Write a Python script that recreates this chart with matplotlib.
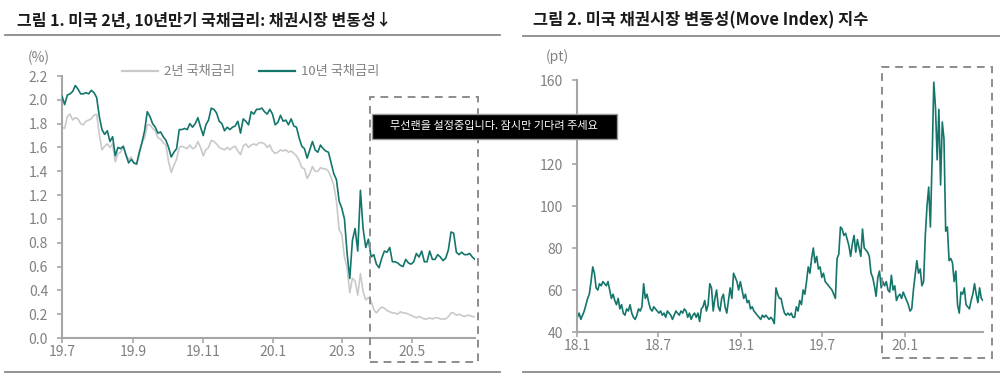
import matplotlib
matplotlib.use('Agg')
import matplotlib.pyplot as plt
import pandas as pd
from matplotlib.patches import Rectangle
from matplotlib.lines import Line2D

plt.rcParams['font.family'] = ['Noto Sans CJK KR', 'DejaVu Sans']

# ---------------- data ----------------
title_left = '그림 1. 미국 2년, 10년만기 국채금리: 채권시장 변동성↓'
title_right = '그림 2. 미국 채권시장 변동성(Move Index) 지수'
series_names = ['2년 국채금리', '10년 국채금리']
unit_left = '(%)'
unit_right = '(pt)'
tooltip_text = '무선랜을 설정중입니다. 잠시만 기다려 주세요'

rate_start, rate_end = '2019-07-01', '2020-06-25'
# US 10Y yield, three readings per week
y10 = [2.03, 1.96, 2.04, 2.05, 2.07, 2.12, 2.09, 2.05, 2.05, 2.06, 2.05, 2.08,
       2.06, 2.02, 1.86, 1.75, 1.71, 1.74, 1.65, 1.69, 1.53, 1.60, 1.59, 1.61,
       1.54, 1.47, 1.50, 1.47, 1.46, 1.56, 1.64, 1.74, 1.90, 1.86, 1.80, 1.77,
       1.72, 1.73, 1.69, 1.66, 1.60, 1.52, 1.56, 1.59, 1.75, 1.75, 1.76, 1.75,
       1.80, 1.77, 1.80, 1.85, 1.77, 1.70, 1.79, 1.83, 1.93, 1.92, 1.89, 1.82,
       1.80, 1.74, 1.77, 1.75, 1.77, 1.78, 1.82, 1.72, 1.84, 1.82, 1.79, 1.90,
       1.88, 1.92, 1.92, 1.93, 1.90, 1.88, 1.92, 1.88, 1.79, 1.81, 1.87, 1.82,
       1.83, 1.79, 1.84, 1.78, 1.77, 1.68, 1.61, 1.59, 1.51, 1.58, 1.65, 1.58,
       1.56, 1.62, 1.59, 1.57, 1.56, 1.47, 1.38, 1.33, 1.15, 1.09, 1.00, 0.71,
       0.50, 0.82, 0.92, 0.73, 1.24, 0.92, 0.76, 0.83, 0.68, 0.70, 0.62, 0.59,
       0.67, 0.73, 0.72, 0.76, 0.64, 0.64, 0.63, 0.61, 0.60, 0.66, 0.63, 0.62,
       0.64, 0.71, 0.68, 0.73, 0.64, 0.64, 0.73, 0.66, 0.66, 0.70, 0.68, 0.65,
       0.67, 0.74, 0.89, 0.88, 0.72, 0.70, 0.72, 0.70, 0.70, 0.71, 0.68, 0.66]
# US 2Y yield, same dates
y2 = [1.77, 1.76, 1.86, 1.88, 1.83, 1.85, 1.84, 1.80, 1.79, 1.82, 1.83, 1.84,
      1.87, 1.88, 1.71, 1.58, 1.61, 1.63, 1.60, 1.63, 1.48, 1.55, 1.56, 1.61,
      1.53, 1.50, 1.52, 1.47, 1.46, 1.54, 1.64, 1.68, 1.79, 1.79, 1.76, 1.74,
      1.68, 1.67, 1.64, 1.62, 1.48, 1.39, 1.45, 1.50, 1.60, 1.61, 1.60, 1.59,
      1.62, 1.59, 1.60, 1.65, 1.60, 1.53, 1.58, 1.60, 1.66, 1.65, 1.63, 1.60,
      1.59, 1.58, 1.60, 1.58, 1.60, 1.61, 1.57, 1.54, 1.61, 1.63, 1.60, 1.62,
      1.63, 1.62, 1.64, 1.64, 1.63, 1.60, 1.62, 1.57, 1.55, 1.56, 1.58, 1.57,
      1.58, 1.56, 1.57, 1.55, 1.53, 1.49, 1.43, 1.42, 1.34, 1.38, 1.44, 1.40,
      1.40, 1.43, 1.42, 1.42, 1.40, 1.35, 1.28, 1.15, 0.91, 0.87, 0.68, 0.59,
      0.38, 0.50, 0.48, 0.36, 0.54, 0.39, 0.32, 0.34, 0.31, 0.24, 0.21, 0.24,
      0.26, 0.25, 0.23, 0.22, 0.21, 0.21, 0.20, 0.22, 0.21, 0.21, 0.20, 0.19,
      0.18, 0.17, 0.18, 0.17, 0.16, 0.16, 0.17, 0.16, 0.17, 0.17, 0.16, 0.16,
      0.16, 0.18, 0.21, 0.21, 0.19, 0.20, 0.19, 0.18, 0.19, 0.19, 0.18, 0.18]
rate_ticks = ['2019-07-01', '2019-09-01', '2019-11-01', '2020-01-01', '2020-03-01', '2020-05-01']
rate_ticklabels = ['19.7', '19.9', '19.11', '20.1', '20.3', '20.5']
rate_yticks = [0.0, 0.2, 0.4, 0.6, 0.8, 1.0, 1.2, 1.4, 1.6, 1.8, 2.0, 2.2]

move_start, move_end = '2018-01-02', '2020-06-23'
# MOVE index, about two readings per week (8 per month)
move = [47, 49, 46, 48, 50, 53, 56, 58,
        64, 71, 68, 61, 60, 63, 62, 64,
        63, 62, 64, 60, 56, 58, 55, 53,
        56, 51, 53, 49, 48, 51, 50, 53,
        49, 47, 46, 48, 51, 50, 52, 63,
        56, 58, 54, 51, 50, 52, 51, 50,
        49, 50, 48, 49, 47, 50, 49, 48,
        46, 48, 50, 49, 48, 50, 49, 51,
        50, 47, 49, 46, 48, 49, 47, 49,
        45, 51, 52, 55, 50, 53, 63, 61,
        50, 56, 60, 52, 50, 56, 58, 52,
        49, 55, 61, 56, 68, 66, 64, 60,
        64, 60, 56, 58, 54, 55, 51, 52,
        50, 49, 48, 47, 46, 48, 47, 48,
        47, 46, 47, 46, 44, 61, 58, 56,
        56, 52, 49, 48, 49, 48, 49, 47,
        47, 52, 50, 55, 53, 60, 58, 64,
        71, 68, 75, 80, 73, 76, 70, 71,
        66, 68, 64, 63, 62, 61, 60, 58,
        56, 75, 77, 90, 89, 86, 87, 84,
        81, 76, 82, 86, 78, 84, 80, 76,
        89, 80, 79, 78, 76, 68, 66, 62,
        57, 66, 69, 61, 64, 62, 64, 60,
        59, 67, 60, 62, 55, 57, 58, 56,
        59, 57, 55, 53, 50, 51, 60, 67,
        74, 68, 70, 62, 64, 86, 100, 109,
        90, 122, 159, 147, 122, 146, 110, 140,
        132, 88, 90, 74, 75, 73, 64, 69,
        53, 49, 59, 58, 61, 53, 52, 51,
        55, 58, 63, 58, 54, 61, 56, 55]
move_ticks = ['2018-01-01', '2018-07-01', '2019-01-01', '2019-07-01', '2020-01-01']
move_ticklabels = ['18.1', '18.7', '19.1', '19.7', '20.1']
move_yticks = [40, 60, 80, 100, 120, 140, 160]
# the 140 label sits under the tooltip overlay in the reference
move_yticklabels = ['40', '60', '80', '100', '120', '', '160']

# ---------------- style ----------------
TEAL = '#14756b'
GRAY_LINE = '#c9c9c9'
AXIS = '#a6a6a6'
TICKTXT = '#808080'
W, H = 1000, 378

fig = plt.figure(figsize=(10, 3.78), dpi=100)


def rect(x0, y0, x1, y1):
    return [x0 / W, 1 - y1 / H, (x1 - x0) / W, (y1 - y0) / H]


def style_axis(ax, ypad):
    for s in ['top', 'right']:
        ax.spines[s].set_visible(False)
    for s in ['left', 'bottom']:
        ax.spines[s].set_color(AXIS)
        ax.spines[s].set_linewidth(1.5)
    ax.tick_params(axis='y', colors=AXIS, labelcolor=TICKTXT, length=3.5, width=1.2,
                   labelsize=10, pad=ypad)
    ax.tick_params(axis='x', colors=AXIS, labelcolor=TICKTXT, length=3.5, width=1.2,
                   labelsize=10, pad=1.5)
    ax.patch.set_alpha(0)


# ---- left chart ----
rate_dates = pd.date_range(rate_start, rate_end, periods=len(y10))
ax1 = fig.add_axes(rect(62, 76, 475, 338))
ax1.plot(rate_dates, y2, color=GRAY_LINE, lw=1.2, zorder=2)
ax1.plot(rate_dates, y10, color=TEAL, lw=1.2, zorder=3)
ax1.set_xlim(pd.Timestamp(rate_start), pd.Timestamp(rate_end))
ax1.set_ylim(0, 2.2)
ax1.set_yticks(rate_yticks)
ax1.set_yticklabels([f'{v:.1f}' for v in rate_yticks])
ax1.set_xticks(pd.to_datetime(rate_ticks))
ax1.set_xticklabels(rate_ticklabels)
style_axis(ax1, 6.5)

handles = [Line2D([], [], color=GRAY_LINE, lw=1.6), Line2D([], [], color=TEAL, lw=1.6)]
leg = fig.legend(handles, series_names, loc='center left',
                 bbox_to_anchor=(122 / W, 1 - 72 / H), ncol=2, frameon=False,
                 fontsize=9.5, handlelength=2.75, handletextpad=0.45,
                 columnspacing=1.8, borderpad=0, borderaxespad=0)
for t in leg.get_texts():
    t.set_color(TICKTXT)

fig.text(28 / W, 1 - 58 / H, unit_left, fontsize=10, color=TICKTXT, va='center', ha='left')

# ---- right chart ----
move_dates = pd.date_range(move_start, move_end, periods=len(move))
ax2 = fig.add_axes(rect(577, 80, 983, 332))
ax2.plot(move_dates, move, color=TEAL, lw=1.2)
ax2.set_xlim(pd.Timestamp('2018-01-01'), pd.Timestamp(move_end))
ax2.set_ylim(40, 160)
ax2.set_yticks(move_yticks)
ax2.set_yticklabels(move_yticklabels)
ax2.set_xticks(pd.to_datetime(move_ticks))
ax2.set_xticklabels(move_ticklabels)
style_axis(ax2, 6.5)

fig.text(546 / W, 1 - 57 / H, unit_right, fontsize=10, color=TICKTXT, va='center', ha='left')

# ---- titles and rules ----
fig.text(17 / W, 1 - 20 / H, title_left, fontsize=11.5, fontweight='bold', color='#1a1a1a',
         va='center', ha='left')
fig.text(533 / W, 1 - 20 / H, title_right, fontsize=11.8, fontweight='bold', color='#1a1a1a',
         va='center', ha='left')
for (xa, xb, yy) in [(5, 500, 35), (523, 1000, 36), (5, 500, 372), (523, 1000, 372)]:
    fig.add_artist(Line2D([xa / W, xb / W], [1 - yy / H, 1 - yy / H], transform=fig.transFigure,
                          color='#8a8a8a', lw=1.3))

# dashed highlight boxes
for (x0, y0, x1, y1) in [(370, 97, 478, 362), (882, 67, 992, 358)]:
    fig.add_artist(Rectangle((x0 / W, 1 - y1 / H), (x1 - x0) / W, (y1 - y0) / H,
                             transform=fig.transFigure, fill=False, edgecolor='#8c8c8c',
                             lw=1.4, linestyle=(0, (4, 3)), zorder=5))

# tooltip overlay
fig.add_artist(Rectangle((372 / W, 1 - 139 / H), (617 - 372) / W, (139 - 114) / H,
                         transform=fig.transFigure, facecolor='black', edgecolor='#9a9a9a',
                         lw=1, zorder=20))
fig.text(390 / W, 1 - 126.5 / H, tooltip_text, fontsize=8, color='white', va='center',
         ha='left', zorder=21)

fig.savefig('out.png', dpi=100)
